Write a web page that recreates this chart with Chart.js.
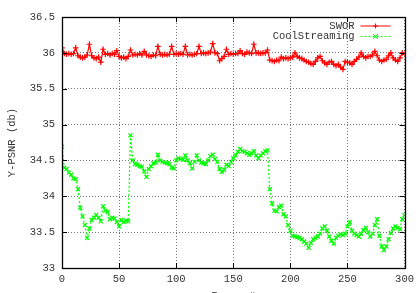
<!DOCTYPE html>
<html>
<head>
<meta charset="utf-8">
<script src="https://cdn.jsdelivr.net/npm/chart.js@4/dist/chart.umd.min.js"></script>
<style>
  html, body { margin: 0; padding: 0; background: #fff; }
  canvas { display: block; }
</style>
</head>
<body>
<canvas id="psnr" width="419" height="293"></canvas>
<script>
// frames are sampled every 2 frames, 0..300
const FRAME_STEP = 2;

const sworDb = [
  36.07, 35.99, 35.98, 35.99, 35.98, 35.99, 36.07, 35.96, 35.94, 35.93,
  35.94, 35.97, 36.12, 35.96, 35.93, 35.92, 35.94, 35.87, 36.05, 35.98,
  35.99, 35.97, 35.99, 35.98, 36.03, 35.95, 35.93, 35.94, 35.92, 35.95,
  36.04, 35.97, 35.98, 35.97, 35.99, 35.97, 36.02, 35.97, 35.96, 35.95,
  35.97, 35.96, 36.09, 35.98, 35.97, 35.98, 35.97, 35.98, 36.09, 35.98,
  35.99, 35.98, 35.99, 35.98, 36.09, 35.97, 35.98, 35.97, 35.98, 35.99,
  36.09, 35.99, 36.00, 35.99, 36.00, 36.01, 36.13, 36.00, 35.99, 35.89,
  35.92, 35.95, 36.05, 35.98, 35.99, 35.98, 35.99, 35.99, 36.03, 35.99,
  35.98, 36.01, 36.00, 35.99, 36.12, 36.00, 36.00, 35.99, 36.00, 36.00,
  36.04, 35.90, 35.89, 35.88, 35.90, 35.89, 35.94, 35.92, 35.93, 35.92,
  35.93, 35.94, 36.00, 35.95, 35.93, 35.92, 35.90, 35.88, 35.87, 35.85,
  35.84, 35.88, 35.93, 35.95, 35.89, 35.86, 35.84, 35.87, 35.88, 35.84,
  35.82, 35.84, 35.80, 35.77, 35.88, 35.87, 35.86, 35.84, 35.88, 35.91,
  35.94, 36.00, 35.95, 35.93, 35.95, 35.95, 35.97, 36.02, 35.96, 35.90,
  35.88, 35.90, 35.91, 35.96, 36.00, 35.93, 35.90, 35.88, 35.93, 36.00,
  35.98
];

const coolDb = [
  34.69, 34.40, 34.38, 34.33, 34.30, 34.25, 34.24, 34.10, 33.84, 33.72,
  33.60, 33.42, 33.55, 33.67, 33.70, 33.74, 33.70, 33.65, 33.86, 33.80,
  33.78, 33.68, 33.70, 33.69, 33.64, 33.58, 33.67, 33.64, 33.66, 33.65,
  34.85, 34.50, 34.45, 34.44, 34.42, 34.41, 34.35, 34.27, 34.38, 34.42,
  34.46, 34.47, 34.58, 34.50, 34.48, 34.47, 34.46, 34.45, 34.40, 34.39,
  34.50, 34.53, 34.52, 34.51, 34.57, 34.50, 34.46, 34.39, 34.48, 34.57,
  34.50, 34.47, 34.46, 34.45, 34.50, 34.56, 34.58, 34.52, 34.48, 34.38,
  34.34, 34.37, 34.44, 34.42, 34.48, 34.53, 34.57, 34.62, 34.66, 34.63,
  34.62, 34.60, 34.58, 34.60, 34.63, 34.57, 34.53, 34.57, 34.60, 34.63,
  34.64, 34.10, 33.90, 33.80, 33.79, 33.85, 33.87, 33.75, 33.72, 33.60,
  33.52, 33.45, 33.44, 33.43, 33.42, 33.40, 33.37, 33.34, 33.28, 33.35,
  33.40, 33.42, 33.44, 33.48, 33.55, 33.58, 33.52, 33.44, 33.38, 33.34,
  33.42, 33.45, 33.47, 33.46, 33.48, 33.58, 33.64, 33.52, 33.48, 33.46,
  33.44, 33.48, 33.53, 33.56, 33.50, 33.44, 33.48, 33.60, 33.68, 33.45,
  33.30, 33.25, 33.30, 33.40, 33.49, 33.55, 33.58, 33.56, 33.54, 33.68,
  33.74
];

const seriesNames = ['SWOR', 'CoolStreaming'];
const xTitle = 'Frame #';
const yTitle = 'Y-PSNR (db)';

const frames = sworDb.map((_, i) => i * FRAME_STEP);

const FONT = { family: '"Liberation Mono", "DejaVu Sans Mono", monospace', size: 10.5 };
const TEXT = '#333';

// gnuplot style frame with inner ticks, plus the key in the top right
const gnuFrame = {
  id: 'gnuFrame',
  afterDatasetsDraw(chart) {
    const { ctx, chartArea: a, scales } = chart;
    ctx.save();
    ctx.strokeStyle = '#000';
    ctx.lineWidth = 1;
    ctx.beginPath();
    scales.y.ticks.forEach(t => {
      const y = Math.round(scales.y.getPixelForValue(t.value)) + 0.5;
      ctx.moveTo(a.left, y); ctx.lineTo(a.left + 5, y);
      ctx.moveTo(a.right, y); ctx.lineTo(a.right - 5, y);
    });
    scales.x.ticks.forEach(t => {
      const x = Math.round(scales.x.getPixelForValue(t.value)) + 0.5;
      ctx.moveTo(x, a.bottom); ctx.lineTo(x, a.bottom - 5);
      ctx.moveTo(x, a.top); ctx.lineTo(x, a.top + 5);
    });
    ctx.stroke();
    ctx.lineWidth = 1.3;
    ctx.strokeRect(Math.round(a.left) + 0.5, Math.round(a.top) + 0.5,
      Math.round(a.right - a.left), Math.round(a.bottom - a.top));

    // key
    ctx.font = `${FONT.size}px ${FONT.family}`;
    ctx.textAlign = 'right';
    ctx.textBaseline = 'middle';
    const textRight = a.right - 50;
    chart.data.datasets.forEach((ds, i) => {
      const y = a.top + 9 + i * 10.5;
      ctx.fillStyle = TEXT;
      ctx.fillText(ds.label, textRight, y);
      const x0 = textRight + 6, x1 = a.right - 14;
      ctx.strokeStyle = ds.borderColor;
      ctx.lineWidth = 1;
      ctx.setLineDash(ds.borderDash || []);
      ctx.beginPath();
      ctx.moveTo(x0, y); ctx.lineTo(x1, y);
      ctx.stroke();
      ctx.setLineDash([]);
      const mx = (x0 + x1) / 2, r = 2.5;
      ctx.beginPath();
      if (ds.pointStyle === 'cross') {
        ctx.moveTo(mx - r, y); ctx.lineTo(mx + r, y);
        ctx.moveTo(mx, y - r); ctx.lineTo(mx, y + r);
      } else {
        ctx.moveTo(mx - r, y - r); ctx.lineTo(mx + r, y + r);
        ctx.moveTo(mx - r, y + r); ctx.lineTo(mx + r, y - r);
      }
      ctx.stroke();
    });
    ctx.restore();
  }
};

new Chart(document.getElementById('psnr').getContext('2d'), {
  type: 'line',
  data: {
    labels: frames,
    datasets: [{
      label: seriesNames[0],
      data: sworDb.map((v, i) => ({ x: frames[i], y: v })),
      borderColor: '#ff0000',
      backgroundColor: '#ff0000',
      borderWidth: 1.2,
      pointStyle: 'cross',
      pointRadius: 2.8,
      pointBorderWidth: 1.2,
      tension: 0
    }, {
      label: seriesNames[1],
      data: coolDb.map((v, i) => ({ x: frames[i], y: v })),
      borderColor: '#00ff00',
      backgroundColor: '#00ff00',
      borderWidth: 1.2,
      borderDash: [2, 2],
      pointStyle: 'crossRot',
      pointRadius: 2.8,
      pointBorderWidth: 1.3,
      tension: 0
    }]
  },
  options: {
    responsive: false,
    animation: false,
    maintainAspectRatio: false,
    layout: { padding: { left: 0, top: 17, right: 12, bottom: 0 } },
    plugins: {
      legend: { display: false },
      tooltip: { enabled: false }
    },
    scales: {
      x: {
        type: 'linear',
        min: 0,
        max: 300,
        ticks: { stepSize: 50, font: FONT, color: TEXT, padding: 5, maxRotation: 0 },
        grid: { color: '#777', drawTicks: false },
        border: { display: false, dash: [1, 2] },
        title: { display: true, text: xTitle, font: FONT, color: TEXT, padding: { top: 0, bottom: -9.5 } },
        afterFit(scale) { scale.height = 25; }
      },
      y: {
        min: 33,
        max: 36.5,
        ticks: { stepSize: 0.5, font: FONT, color: TEXT, padding: 7, callback: v => String(v) },
        grid: { color: '#777', drawTicks: false },
        border: { display: false, dash: [1, 2] },
        title: { display: true, text: yTitle, font: FONT, color: TEXT, padding: { top: 6, bottom: 0 } },
        afterFit(scale) { scale.width = 62; }
      }
    }
  },
  plugins: [gnuFrame]
});
</script>
</body>
</html>
